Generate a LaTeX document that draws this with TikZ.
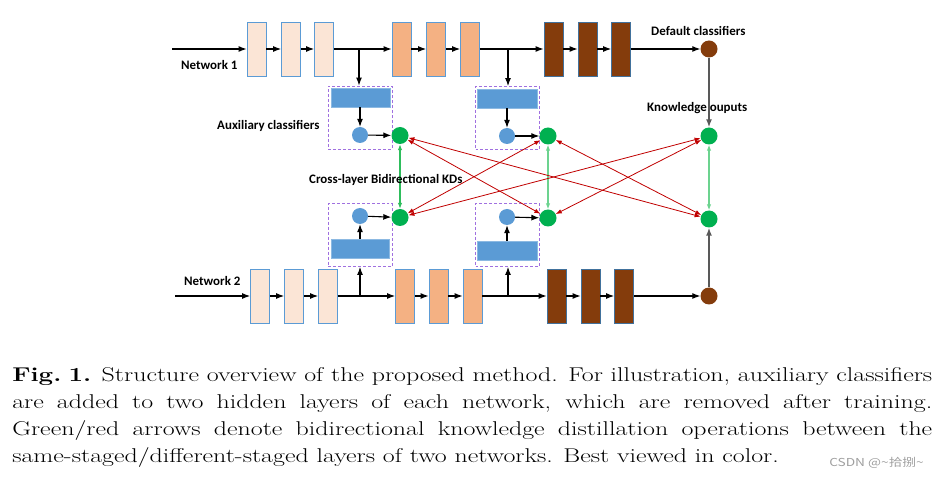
\documentclass[tikz,border=0pt]{standalone}
\usepackage{fontspec}
\newfontfamily\lblfont{Carlito}
\newfontfamily\cjkfont{Noto Sans CJK SC}
\usetikzlibrary{arrows.meta}
\hyphenpenalty=10000
\exhyphenpenalty=10000
\definecolor{lightfill}{HTML}{FBE5D6}
\definecolor{orangefill}{HTML}{F4B183}
\definecolor{brownfill}{HTML}{843C0C}
\definecolor{boxborder}{HTML}{5B9BD5}
\definecolor{brownborder}{HTML}{41719C}
\definecolor{auxblue}{HTML}{5B9BD5}
\definecolor{dashpurple}{HTML}{A070E0}
\definecolor{nodegreen}{HTML}{00B050}
\definecolor{kdred}{HTML}{C00000}
\definecolor{kdgreenA}{HTML}{2EBD5C}
\definecolor{kdgreenB}{HTML}{6CD38F}
\definecolor{linegray}{HTML}{595959}
\begin{document}
\begin{tikzpicture}[x=1bp,y=-1bp,
  layerbox/.style={rectangle, minimum width=19bp, minimum height=54bp, inner sep=0pt, line width=0.8bp},
  lightbox/.style={layerbox, fill=lightfill, draw=boxborder},
  orangebox/.style={layerbox, fill=orangefill, draw=boxborder},
  brownbox/.style={layerbox, fill=brownfill, draw=brownborder},
  auxrect/.style={rectangle, fill=auxblue, draw=auxblue!70!white, minimum width=59bp, minimum height=19bp, inner sep=0pt},
  auxdash/.style={rectangle, draw=dashpurple, densely dashed, line width=0.9bp, minimum width=64bp, minimum height=63bp, inner sep=0pt},
  bluedot/.style={circle, fill=auxblue, minimum size=16bp, inner sep=0pt},
  greendot/.style={circle, fill=nodegreen, minimum size=17bp, inner sep=0pt},
  browndot/.style={circle, fill=brownfill, minimum size=17bp, inner sep=0pt},
  flow/.style={-{Latex[length=8bp,width=6bp]}, line width=1.1bp, black},
  flowgray/.style={-{Latex[length=8bp,width=6bp]}, line width=1.4bp, linegray},
  kdsame/.style={{Latex[length=6bp,width=4.5bp]}-{Latex[length=6bp,width=4.5bp]}, line width=1.1bp},
  kddiff/.style={{Latex[length=6bp,width=4.5bp]}-{Latex[length=6bp,width=4.5bp]}, line width=0.8bp, kdred},
  lbl/.style={font=\lblfont\bfseries\fontsize{13}{15}\selectfont, inner sep=0pt}
]
\useasboundingbox (0,0) rectangle (939,479);

% ---- Network 1 ----
\coordinate (in1) at (172,49);
\node[lightbox] (a1) at (256.5,49) {};
\node[lightbox] (a2) at (291,49) {};
\node[lightbox] (a3) at (324,49) {};
\node[orangebox] (a4) at (401.5,49) {};
\node[orangebox] (a5) at (436,49) {};
\node[orangebox] (a6) at (470,49) {};
\node[brownbox] (a7) at (553.5,49) {};
\node[brownbox] (a8) at (587.5,49) {};
\node[brownbox] (a9) at (621,49) {};
\node[browndot] (c1) at (709,49) {};

% ---- Network 2 ----
\coordinate (in2) at (175,296);
\node[lightbox] (b1) at (260,296) {};
\node[lightbox] (b2) at (294,296) {};
\node[lightbox] (b3) at (328,296) {};
\node[orangebox] (b4) at (405,296) {};
\node[orangebox] (b5) at (438.5,296) {};
\node[orangebox] (b6) at (472.5,296) {};
\node[brownbox] (b7) at (556.5,296) {};
\node[brownbox] (b8) at (590.5,296) {};
\node[brownbox] (b9) at (624,296) {};
\node[browndot] (c2) at (709,296) {};

% ---- auxiliary classifiers ----
\node[auxdash] (d1) at (360,117.5) {};
\node[auxdash] (d2) at (507.5,118) {};
\node[auxdash] (d3) at (360,235) {};
\node[auxdash] (d4) at (507.5,235) {};
\node[auxrect] (r1) at (360.5,97.5) {};
\node[auxrect, minimum width=60bp] (r2) at (507,98.5) {};
\node[auxrect, minimum width=58bp] (r3) at (360,248.5) {};
\node[auxrect, minimum width=60bp] (r4) at (507,250.5) {};
\node[bluedot] (p1) at (360,135) {};
\node[bluedot] (p2) at (507,136) {};
\node[bluedot] (p3) at (360,216) {};
\node[bluedot] (p4) at (507,217) {};

% ---- knowledge outputs ----
\node[greendot] (g1) at (400,135.5) {};
\node[greendot] (g2) at (548,136) {};
\node[greendot] (g3) at (709,136) {};
\node[greendot] (h1) at (400,217.5) {};
\node[greendot] (h2) at (548,218) {};
\node[greendot] (h3) at (709,219) {};

% ---- flow arrows, network 1 ----
\draw[flow] (in1) -- (a1);
\draw[flow] (a1) -- (a2);
\draw[flow] (a2) -- (a3);
\draw[flow] (a3) -- (a4);
\draw[flow] (a4) -- (a5);
\draw[flow] (a5) -- (a6);
\draw[flow] (a6) -- (a7);
\draw[flow] (a7) -- (a8);
\draw[flow] (a8) -- (a9);
\draw[flow] (a9) -- (c1);
\coordinate (s1) at (359,49);
\coordinate (s2) at (508,49);
\draw[flow] (s1) -- (d1.north -| s1);
\draw[flow] (s2) -- (d2.north -| s2);
\draw[flow] (r1.south -| p1) -- (p1);
\draw[flow] (r2.south -| p2) -- (p2);
\draw[flow] (p1) -- (g1);
\draw[flow] (p2) -- (g2);
\draw[flowgray] (c1) -- (g3);

% ---- flow arrows, network 2 ----
\draw[flow] (in2) -- (b1);
\draw[flow] (b1) -- (b2);
\draw[flow] (b2) -- (b3);
\draw[flow] (b3) -- (b4);
\draw[flow] (b4) -- (b5);
\draw[flow] (b5) -- (b6);
\draw[flow] (b6) -- (b7);
\draw[flow] (b7) -- (b8);
\draw[flow] (b8) -- (b9);
\draw[flow] (b9) -- (c2);
\coordinate (s3) at (360,296);
\coordinate (s4) at (508,296);
\draw[flow] (s3) -- (d3.south -| s3);
\draw[flow] (s4) -- (d4.south -| s4);
\draw[flow] (r3.north -| p3) -- (p3);
\draw[flow] (r4.north -| p4) -- (p4);
\draw[flow] (p3) -- (h1);
\draw[flow] (p4) -- (h2);
\draw[flowgray] (c2) -- (h3);

% ---- bidirectional KDs ----
\draw[kdsame, kdgreenA] (g1) -- (h1);
\draw[kdsame, kdgreenB] (g2) -- (h2);
\draw[kdsame, kdgreenB] (g3) -- (h3);
\draw[kddiff] (g1) -- (h2);
\draw[kddiff] (g1) -- (h3);
\draw[kddiff] (h1) -- (g2);
\draw[kddiff] (h1) -- (g3);
\draw[kddiff] (g2) -- (h3);
\draw[kddiff] (h2) -- (g3);

% ---- labels ----
\node[lbl, anchor=west] (t1) at (181,65) {Network 1};
\node[lbl, anchor=west] (t2) at (184,281) {Network 2};
\node[lbl, anchor=west] (t3) at (217,126) {Auxiliary classifiers};
\node[lbl, anchor=west] (t4) at (651,31) {Default classifiers};
\node[lbl, anchor=west] (t5) at (647,108) {Knowledge ouputs};
\node[lbl, anchor=west] (t6) at (309,180) {Cross-layer Bidirectional KDs};

% ---- caption ----
\node[anchor=north west, inner sep=0pt, text width=707.7bp, align=justify,
      xscale=1.3, transform shape,
      font=\fontsize{20}{27.2}\selectfont] (cap) at (12,367)
  {\textbf{Fig.\hspace{0.28em}1.} Structure overview of the proposed method. For illustration, auxiliary classifiers\linebreak
   are added to two hidden layers of each network, which are removed after training.\linebreak
   Green/red arrows denote bidirectional knowledge distillation operations between the\linebreak
   same-staged/different-staged layers of two networks. Best viewed in color.};
\node[anchor=west, inner sep=0pt, text=gray!75, xscale=1.25, transform shape,
      font=\cjkfont\fontsize{11}{12}\selectfont] (wm) at (829,463) {CSDN @\textasciitilde 拾捌\textasciitilde};
\end{tikzpicture}
\end{document}
